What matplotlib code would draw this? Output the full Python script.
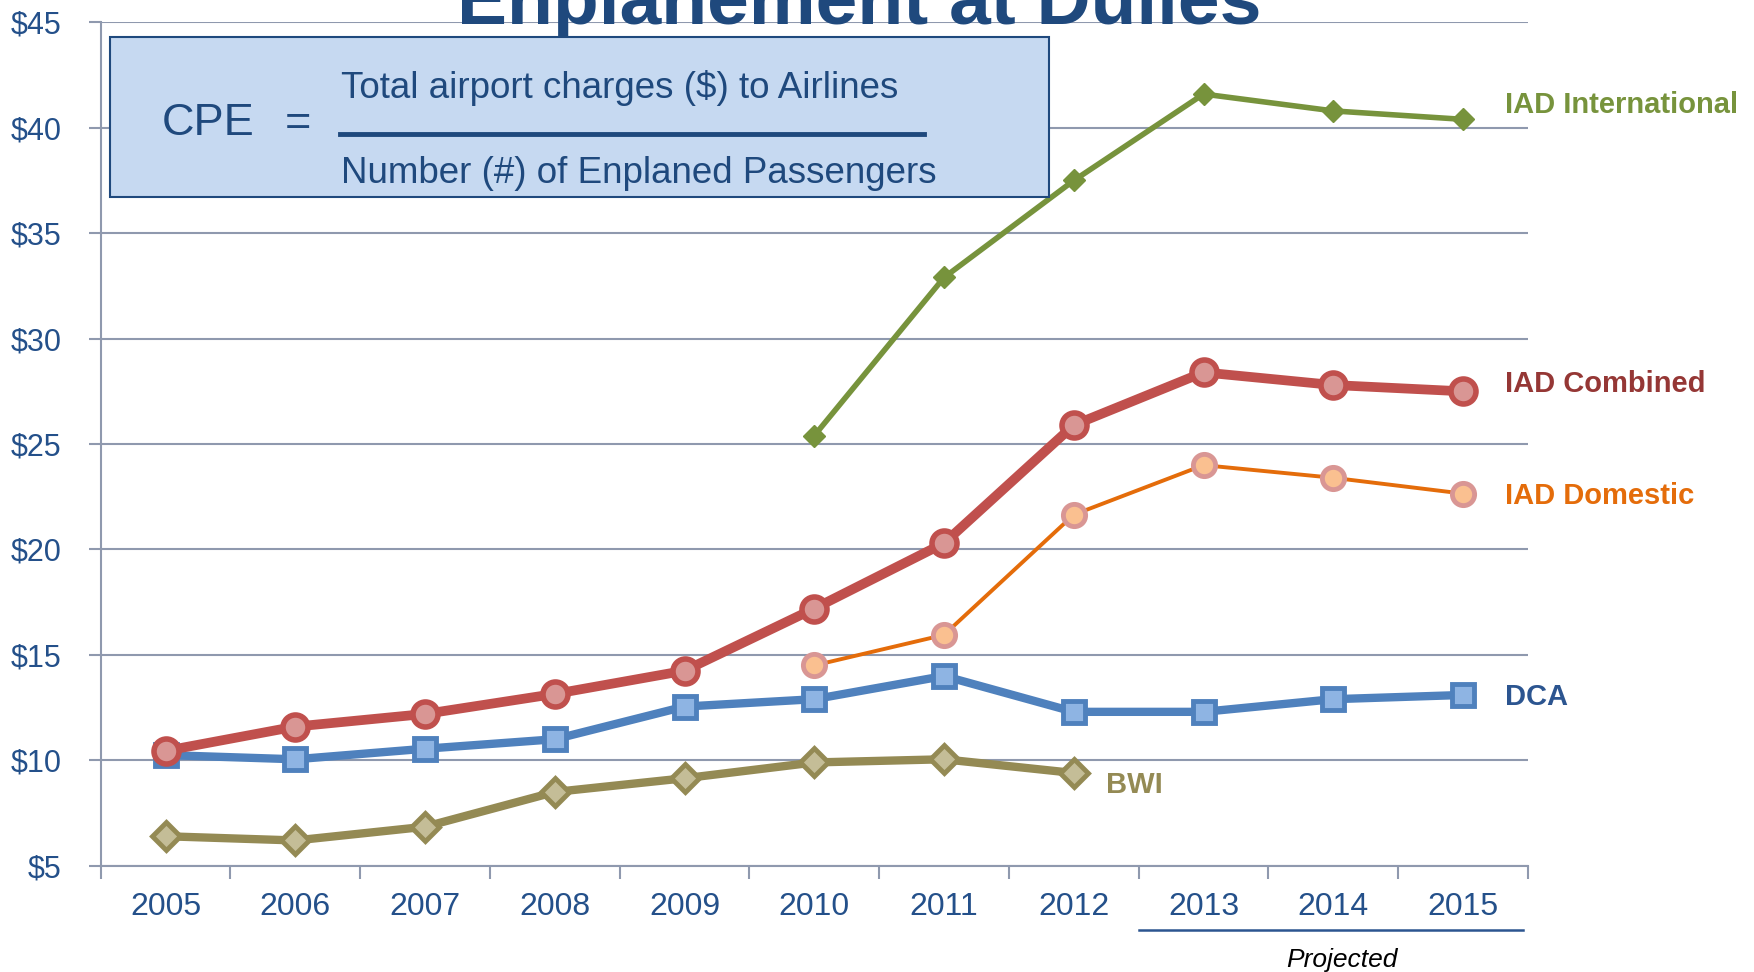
import matplotlib
matplotlib.use("Agg")
import matplotlib.pyplot as plt
from matplotlib.patches import Rectangle
from matplotlib.lines import Line2D

plt.rcParams['font.family'] = ['Liberation Sans', 'DejaVu Sans']

years = ['2005', '2006', '2007', '2008', '2009', '2010', '2011', '2012', '2013', '2014', '2015']
iad_intl = [None, None, None, None, None, 25.4, 32.9, 37.5, 41.6, 40.8, 40.4]
iad_comb = [10.45, 11.6, 12.2, 13.15, 14.25, 17.2, 20.3, 25.9, 28.4, 27.8, 27.5]
iad_dom = [None, None, None, None, None, 14.5, 15.95, 21.65, 24.0, 23.4, 22.65]
dca = [10.25, 10.05, 10.55, 11.0, 12.55, 12.9, 14.0, 12.3, 12.3, 12.9, 13.1]
bwi = [6.4, 6.2, 6.85, 8.5, 9.15, 9.9, 10.05, 9.4]
yticks = [5, 10, 15, 20, 25, 30, 35, 40, 45]
ytick_labels = ['$5', '$10', '$15', '$20', '$25', '$30', '$35', '$40', '$45']

TXT = '#24508A'
GRID = '#8F99AE'

fig = plt.figure(figsize=(17.54, 9.72), dpi=100)
ax = fig.add_axes([0.0574, 0.1093, 0.8137, 0.8677])

x = list(range(len(years)))

def seg(vals):
    xs = [i for i, v in enumerate(vals) if v is not None]
    ys = [v for v in vals if v is not None]
    return xs, ys

xs, ys = seg(bwi)
ax.plot(xs, ys, color='#948A54', lw=6, marker='D', ms=14, mfc='#C4BD97', mec='#948A54', mew=3.5, zorder=3)
xs, ys = seg(dca)
ax.plot(xs, ys, color='#4F81BD', lw=6, marker='s', ms=16, mfc='#8EB4E3', mec='#4F81BD', mew=3.5, zorder=4)
xs, ys = seg(iad_dom)
ax.plot(xs, ys, color='#E46C0A', lw=2.8, marker='o', ms=16, mfc='#FAC090', mec='#D99694', mew=3.5, zorder=5)
xs, ys = seg(iad_comb)
ax.plot(xs, ys, color='#C0504D', lw=7, marker='o', ms=18, mfc='#D99694', mec='#C0504D', mew=4, zorder=6)
xs, ys = seg(iad_intl)
ax.plot(xs, ys, color='#77933C', lw=4, marker='D', ms=11, mfc='#77933C', mec='#77933C', zorder=7)

ax.set_xlim(-0.5, len(years) - 0.5)
ax.set_ylim(5, 45)
ax.set_yticks(yticks)
ax.set_yticklabels(ytick_labels)
ax.set_xticks(x)
ax.set_xticklabels(years)
ax.set_xticks([i - 0.5 for i in range(len(years) + 1)], minor=True)
ax.tick_params(axis='x', which='major', length=0, pad=19, labelsize=23, labelcolor=TXT)
ax.tick_params(axis='x', which='minor', length=9, width=1.5, color=GRID)
ax.tick_params(axis='y', length=9, width=1.5, color=GRID, pad=19, labelsize=22, labelcolor=TXT)
ax.grid(axis='y', color=GRID, lw=1.5, zorder=0)
ax.set_axisbelow(True)
for s in ['top', 'right']:
    ax.spines[s].set_visible(False)
for s in ['left', 'bottom']:
    ax.spines[s].set_color(GRID)
    ax.spines[s].set_linewidth(1.5)

# series labels
lab_kw = dict(fontsize=21, fontweight='bold', va='center', ha='left')
ax.text(10.32, 41.1, 'IAD International', color='#77933C', **lab_kw)
ax.text(10.32, 27.85, 'IAD Combined', color='#953735', **lab_kw)
ax.text(10.32, 22.55, 'IAD Domestic', color='#E46C0A', **lab_kw)
ax.text(10.32, 13.0, 'DCA', color='#2C5590', **lab_kw)
ax.text(7.245, 8.85, 'BWI', color='#948A54', **lab_kw)

# title (cropped at top)
fig.text(0.49, 0.975, 'Enplanement at Dulles', fontsize=54, fontweight='bold',
         color='#1F497D', ha='center', va='baseline', zorder=1)

# CPE box
W, H = 1754, 972
box = Rectangle((109.6 / W, 1 - 196.9 / H), (1049 - 109.6) / W, (196.9 - 36.9) / H,
                transform=fig.transFigure, facecolor='#C6D9F1', edgecolor='#1F497D',
                lw=1.5, zorder=10)
fig.add_artist(box)
fig.text(162 / W, 1 - 123.5 / H, 'CPE', fontsize=32.5, color='#1F497D', ha='left', va='center', zorder=11)
fig.text(285 / W, 1 - 123.5 / H, '=', fontsize=32.5, color='#1F497D', ha='left', va='center', zorder=11)
fig.text(341 / W, 1 - 87.5 / H, 'Total airport charges ($) to Airlines', fontsize=26.5,
         color='#1F497D', ha='left', va='center', zorder=11)
fig.text(341 / W, 1 - 173.5 / H, 'Number (#) of Enplaned Passengers', fontsize=26.5,
         color='#1F497D', ha='left', va='center', zorder=11)
fig.add_artist(Line2D([340 / W, 924 / W], [1 - 134 / H, 1 - 134 / H], transform=fig.transFigure,
                      color='#1F497D', lw=3.5, zorder=11))

# projected marker
fig.add_artist(Line2D([1139 / W, 1523 / W], [1 - 929.5 / H, 1 - 929.5 / H], transform=fig.transFigure,
                      color='#2C5590', lw=1.8))
fig.text(1342 / W, 1 - 960 / H, 'Projected', fontsize=19, fontstyle='italic', color='black',
         ha='center', va='center')

fig.savefig('out.png', dpi=100)
